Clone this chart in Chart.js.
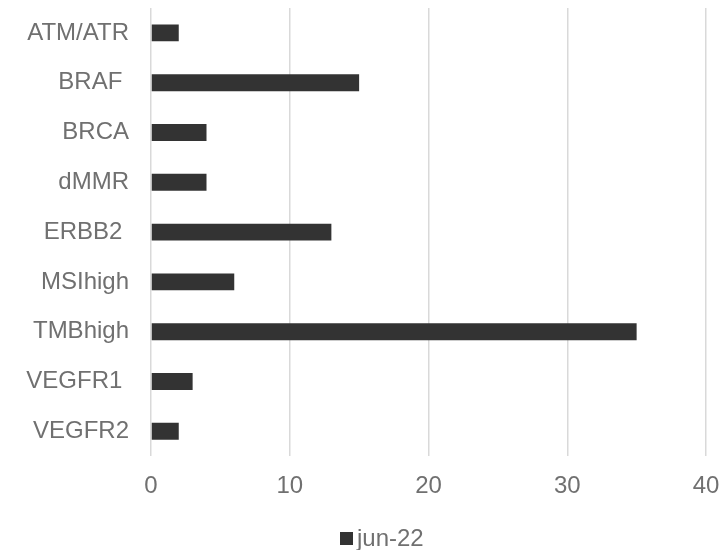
<!DOCTYPE html>
<html>
<head>
<meta charset="utf-8">
<script src="https://cdn.jsdelivr.net/npm/chart.js@4/dist/chart.umd.min.js"></script>
<style>
  html, body { margin: 0; padding: 0; background: #ffffff; }
  #wrap { width: 720px; height: 550px; position: relative; }
</style>
</head>
<body>
<div id="wrap"><canvas id="chart" width="720" height="550"></canvas></div>
<script>
// Biomarker categories (trailing spaces kept as in the source labels)
const categories = ['ATM/ATR', 'BRAF ', 'BRCA', 'dMMR', 'ERBB2 ', 'MSIhigh', 'TMBhigh', 'VEGFR1 ', 'VEGFR2'];
// Counts per biomarker
const seriesName = 'jun-22';
const seriesValues = [2, 15, 4, 4, 13, 6, 35, 3, 2];
// Value axis ticks
const xTicks = [0, 10, 20, 30, 40];

const textColor = '#707070';
const barColor = '#333333';
const gridColor = '#d9d9d9';
const fontFamily = '"Liberation Sans", Arial, sans-serif';

// Single-entry legend drawn under the value axis: square swatch + series name
const bottomLegend = {
  id: 'bottomLegend',
  afterDraw(chart) {
    const ctx = chart.ctx;
    const ds = chart.data.datasets[0];
    const box = 13, gap = 4, cy = 538.5;
    ctx.save();
    ctx.font = '24px ' + fontFamily;
    const tw = ctx.measureText(ds.label).width;
    const total = box + gap + tw;
    const x0 = Math.round(381.5 - total / 2);
    ctx.fillStyle = ds.backgroundColor;
    ctx.fillRect(x0, Math.round(cy - box / 2), box, box);
    ctx.fillStyle = textColor;
    ctx.textBaseline = 'middle';
    ctx.textAlign = 'left';
    ctx.fillText(ds.label, x0 + box + gap, cy + 1);
    ctx.restore();
  }
};

new Chart(document.getElementById('chart'), {
  type: 'bar',
  data: {
    labels: categories,
    datasets: [{
      label: seriesName,
      data: seriesValues,
      backgroundColor: barColor,
      borderWidth: 0,
      categoryPercentage: 1,
      barPercentage: 0.34
    }]
  },
  options: {
    indexAxis: 'y',
    responsive: false,
    animation: false,
    devicePixelRatio: 1,
    layout: { padding: { left: 0, right: 14, top: 8, bottom: 33 } },
    font: { family: fontFamily, size: 24 },
    plugins: {
      tooltip: { enabled: false },
      legend: { display: false }
    },
    scales: {
      x: {
        min: xTicks[0],
        max: xTicks[xTicks.length - 1],
        afterBuildTicks: (scale) => { scale.ticks = xTicks.map(v => ({ value: v })); },
        afterFit: (scale) => { scale.paddingLeft = 0; scale.paddingRight = 0; },
        grid: { color: gridColor, lineWidth: 1.5, drawTicks: false },
        border: { display: false },
        ticks: {
          color: textColor,
          font: { family: fontFamily, size: 24 },
          padding: 16,
          maxRotation: 0
        }
      },
      y: {
        afterFit: (scale) => { scale.width = 151; scale.paddingTop = 0; scale.paddingBottom = 0; },
        grid: { display: false, drawTicks: false },
        border: { display: false },
        ticks: {
          color: textColor,
          font: { family: fontFamily, size: 24 },
          padding: 22,
          autoSkip: false
        }
      }
    }
  },
  plugins: [bottomLegend]
});
</script>
</body>
</html>
